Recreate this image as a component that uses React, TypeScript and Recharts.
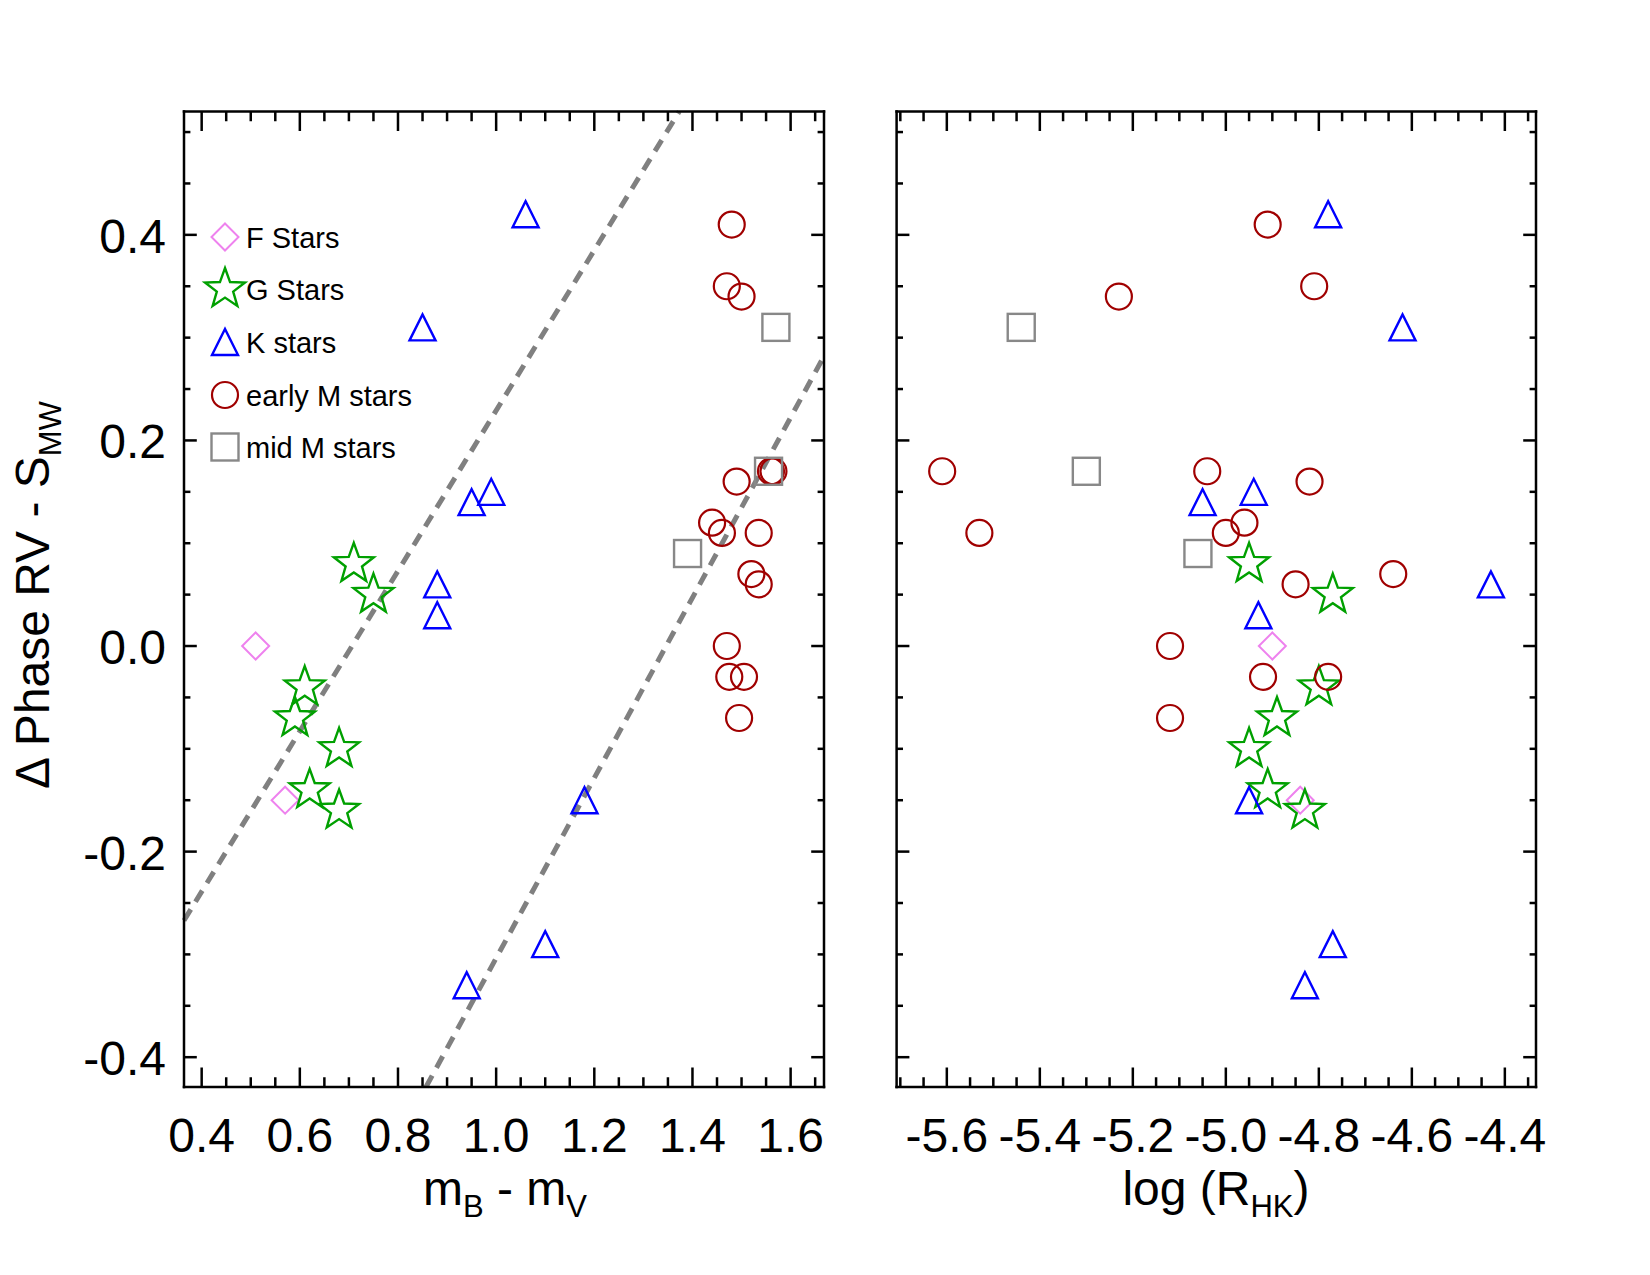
import React from 'react';
import { ScatterChart, Scatter, XAxis, YAxis, ReferenceLine } from 'recharts';

const FONT = '"Liberation Sans", Arial, Helvetica, sans-serif';

// ---- data ----
// F stars
const fBv = [0.51, 0.57];
const fRhk = [-4.9, -4.84];
const fDs = [0.0, -0.15];
// G stars
const gBv = [0.71, 0.75, 0.61, 0.59, 0.68, 0.62, 0.68];
const gRhk = [-4.95, -4.77, -4.8, -4.89, -4.95, -4.91, -4.83];
const gDs = [0.08, 0.05, -0.04, -0.07, -0.1, -0.14, -0.16];
// K stars
const kBv = [1.06, 0.85, 0.95, 0.99, 0.88, 0.88, 1.18, 1.1, 0.94];
const kRhk = [-4.78, -4.62, -5.05, -4.94, -4.43, -4.93, -4.95, -4.77, -4.83];
const kDs = [0.42, 0.31, 0.14, 0.15, 0.06, 0.03, -0.15, -0.29, -0.33];
// early M stars
const emBv = [1.48, 1.47, 1.5, 1.56, 1.565, 1.49, 1.44, 1.46, 1.535, 1.52, 1.535, 1.47, 1.475, 1.505, 1.495];
const emRhk = [-4.91, -4.81, -5.23, -5.61, -5.04, -4.82, -4.96, -5.53, -5.0, -4.64, -4.85, -5.12, -4.92, -4.78, -5.12];
const emDs = [0.41, 0.35, 0.34, 0.17, 0.17, 0.16, 0.12, 0.11, 0.11, 0.07, 0.06, 0.0, -0.03, -0.03, -0.07];
// mid M stars
const mmBv = [1.57, 1.555, 1.39];
const mmRhk = [-5.44, -5.3, -5.06];
const mmDs = [0.31, 0.17, 0.09];

// dashed lines (endpoints in data units)
const line1 = [{ x: 0.364, y: -0.267 }, { x: 1.373, y: 0.52 }];
const line2 = [{ x: 0.857, y: -0.429 }, { x: 1.668, y: 0.282 }];

// ---- axes ----
const yDomain = [-0.429, 0.52];
const bvDomain = [0.364, 1.668];
const rhkDomain = [-5.708, -4.333];
const yMajor = [-0.4, -0.2, 0.0, 0.2, 0.4];
const yTicks = [-0.4, -0.35, -0.3, -0.25, -0.2, -0.15, -0.1, -0.05, 0, 0.05, 0.1, 0.15, 0.2, 0.25, 0.3, 0.35, 0.4, 0.45, 0.5];
const bvMajor = [0.4, 0.6, 0.8, 1.0, 1.2, 1.4, 1.6];
const bvTicks = [0.4, 0.45, 0.5, 0.55, 0.6, 0.65, 0.7, 0.75, 0.8, 0.85, 0.9, 0.95, 1.0, 1.05, 1.1, 1.15, 1.2, 1.25, 1.3, 1.35, 1.4, 1.45, 1.5, 1.55, 1.6, 1.65];
const rhkMajor = [-5.6, -5.4, -5.2, -5.0, -4.8, -4.6, -4.4];
const rhkTicks = [-5.7, -5.65, -5.6, -5.55, -5.5, -5.45, -5.4, -5.35, -5.3, -5.25, -5.2, -5.15, -5.1, -5.05, -5.0, -4.95, -4.9, -4.85, -4.8, -4.75, -4.7, -4.65, -4.6, -4.55, -4.5, -4.45, -4.4, -4.35];

const legendLabels = ['F Stars', 'G Stars', 'K stars', 'early M stars', 'mid M stars'];

const C_F = '#EE82EE';
const C_G = '#00A000';
const C_K = '#0000FF';
const C_EM = '#A00000';
const C_MM = '#888888';
const C_LINE = '#808080';

const zip = (xs: number[], ys: number[]) => xs.map((x, i) => ({ x, y: ys[i] }));

// ---- markers ----
const Diamond = ({ cx, cy }: any) => {
  const h = 13.5;
  return <polygon points={`${cx},${cy - h} ${cx + h},${cy} ${cx},${cy + h} ${cx - h},${cy}`} fill="none" stroke={C_F} strokeWidth={2} />;
};
const Star = ({ cx, cy }: any) => {
  const R = 21, r = 8.6;
  const pts: string[] = [];
  for (let i = 0; i < 10; i++) {
    const a = -Math.PI / 2 + (i * Math.PI) / 5;
    const rr = i % 2 === 0 ? R : r;
    pts.push(`${cx + rr * Math.cos(a)},${cy + rr * Math.sin(a)}`);
  }
  return <polygon points={pts.join(' ')} fill="none" stroke={C_G} strokeWidth={2.4} />;
};
const Tri = ({ cx, cy }: any) => {
  const s = 13;
  return <polygon points={`${cx - s},${cy + s} ${cx},${cy - s} ${cx + s},${cy + s}`} fill="none" stroke={C_K} strokeWidth={2.4} />;
};
const Circ = ({ cx, cy }: any) => <circle cx={cx} cy={cy} r={13} fill="none" stroke={C_EM} strokeWidth={2.2} />;
const Sq = ({ cx, cy }: any) => <rect x={cx - 13.5} y={cy - 13.5} width={27} height={27} fill="none" stroke={C_MM} strokeWidth={2.4} />;

// ---- ticks ----
const makeTick = (side: 'bottom' | 'top' | 'left' | 'right', majors: number[], label: boolean) => (props: any) => {
  const { x, y, payload } = props;
  const v = payload.value;
  const major = majors.some((m) => Math.abs(m - v) < 1e-6);
  const lh = major ? 12.8 : 6.4; // tick length for vertical axes
  const lv = major ? 19.5 : 9.75; // tick length for horizontal axes
  let ln: any;
  if (side === 'bottom') ln = <line x1={x} y1={y} x2={x} y2={y - lv} />;
  else if (side === 'top') ln = <line x1={x} y1={y} x2={x} y2={y + lv} />;
  else if (side === 'left') ln = <line x1={x} y1={y} x2={x + lh} y2={y} />;
  else ln = <line x1={x} y1={y} x2={x - lh} y2={y} />;
  let txt: any = null;
  if (label && major) {
    const s = v.toFixed(1);
    if (side === 'bottom')
      txt = <text x={x} y={y + 65} textAnchor="middle" fontSize={48} fontFamily={FONT} fill="#000">{s}</text>;
    else if (side === 'left')
      txt = <text x={x - 18} y={y + 18} textAnchor="end" fontSize={48} fontFamily={FONT} fill="#000">{s}</text>;
  }
  return (
    <g>
      <g stroke="#000" strokeWidth={2.5}>{ln}</g>
      {txt}
    </g>
  );
};

const AX = { stroke: '#000', strokeWidth: 2.5, strokeLinecap: 'square' as const };

function Panel({ width, margin, xDomain, xTicks, xMajor, yLabels, showLines, which }: any) {
  const useBv = which === 'bv';
  return (
    <ScatterChart width={width} height={1275} margin={margin}>
      <XAxis xAxisId="b" type="number" dataKey="x" orientation="bottom" domain={xDomain} allowDataOverflow ticks={xTicks} interval={0} tickSize={0} tickMargin={0} height={100} tickLine={false} axisLine={AX} tick={makeTick('bottom', xMajor, true)} />
      <XAxis xAxisId="t" type="number" dataKey="x" orientation="top" domain={xDomain} allowDataOverflow ticks={xTicks} interval={0} tickSize={0} tickMargin={0} height={10} tickLine={false} axisLine={AX} tick={makeTick('top', xMajor, false)} />
      <YAxis yAxisId="l" type="number" dataKey="y" orientation="left" domain={yDomain} allowDataOverflow ticks={yTicks} interval={0} tickSize={0} tickMargin={0} width={yLabels ? 100 : 10} tickLine={false} axisLine={AX} tick={makeTick('left', yMajor, yLabels)} />
      <YAxis yAxisId="r" type="number" dataKey="y" orientation="right" domain={yDomain} allowDataOverflow ticks={yTicks} interval={0} tickSize={0} tickMargin={0} width={10} tickLine={false} axisLine={AX} tick={makeTick('right', yMajor, false)} />
      {showLines && (
        <ReferenceLine xAxisId="b" yAxisId="l" segment={line1} stroke={C_LINE} strokeWidth={5} strokeDasharray="13 9" ifOverflow="visible" />
      )}
      {showLines && (
        <ReferenceLine xAxisId="b" yAxisId="l" segment={line2} stroke={C_LINE} strokeWidth={5} strokeDasharray="13 9" ifOverflow="visible" />
      )}
      <Scatter xAxisId="b" yAxisId="l" data={zip(useBv ? fBv : fRhk, fDs)} shape={Diamond} isAnimationActive={false} />
      <Scatter xAxisId="b" yAxisId="l" data={zip(useBv ? gBv : gRhk, gDs)} shape={Star} isAnimationActive={false} />
      <Scatter xAxisId="b" yAxisId="l" data={zip(useBv ? kBv : kRhk, kDs)} shape={Tri} isAnimationActive={false} />
      <Scatter xAxisId="b" yAxisId="l" data={zip(useBv ? emBv : emRhk, emDs)} shape={Circ} isAnimationActive={false} />
      <Scatter xAxisId="b" yAxisId="l" data={zip(useBv ? mmBv : mmRhk, mmDs)} shape={Sq} isAnimationActive={false} />
    </ScatterChart>
  );
}

function Overlay() {
  const rows = [237, 289, 342, 395, 447];
  const shapes = [Diamond, Star, Tri, Circ, Sq];
  const sub = 31;
  return (
    <svg width={1650} height={1275} style={{ position: 'absolute', left: 0, top: 0, pointerEvents: 'none' }}>
      {rows.map((cy, i) => {
        const S = shapes[i];
        return (
          <g key={i}>
            <S cx={225} cy={cy} />
            <text x={246} y={cy + 10.5} fontSize={29} fontFamily={FONT} fill="#000">{legendLabels[i]}</text>
          </g>
        );
      })}
      <text x={505} y={1205} textAnchor="middle" fontSize={48} fontFamily={FONT} fill="#000" style={{ whiteSpace: 'pre' }}>
        <tspan>m</tspan>
        <tspan fontSize={sub} dy={12}>B</tspan>
        <tspan dy={-12}>{' - m'}</tspan>
        <tspan fontSize={sub} dy={12}>V</tspan>
      </text>
      <text x={1216} y={1205} textAnchor="middle" fontSize={48} fontFamily={FONT} fill="#000" style={{ whiteSpace: 'pre' }}>
        <tspan>{'log (R'}</tspan>
        <tspan fontSize={sub} dy={12}>HK</tspan>
        <tspan dy={-12}>)</tspan>
      </text>
      <g transform="translate(49 595) rotate(-90)">
        <text x={0} y={0} textAnchor="middle" fontSize={48} fontFamily={FONT} fill="#000" style={{ whiteSpace: 'pre' }}>
          <tspan>{'\u0394 Phase RV - S'}</tspan>
          <tspan fontSize={sub} dy={12}>MW</tspan>
        </text>
      </g>
    </svg>
  );
}

export default function App() {
  return (
    <div style={{ position: 'absolute', left: 0, top: 0, width: 1650, height: 1275, background: '#fff', overflow: 'hidden' }}>
      <div style={{ position: 'absolute', left: 0, top: 0 }}>
        <Panel width={860} margin={{ top: 101.5, right: 26, bottom: 88, left: 84 }} xDomain={bvDomain} xTicks={bvTicks} xMajor={bvMajor} yLabels={true} showLines={true} which="bv" />
      </div>
      <div style={{ position: 'absolute', left: 860, top: 0 }}>
        <Panel width={790} margin={{ top: 101.5, right: 104, bottom: 88, left: 26.6 }} xDomain={rhkDomain} xTicks={rhkTicks} xMajor={rhkMajor} yLabels={false} showLines={false} which="rhk" />
      </div>
      <Overlay />
    </div>
  );
}
